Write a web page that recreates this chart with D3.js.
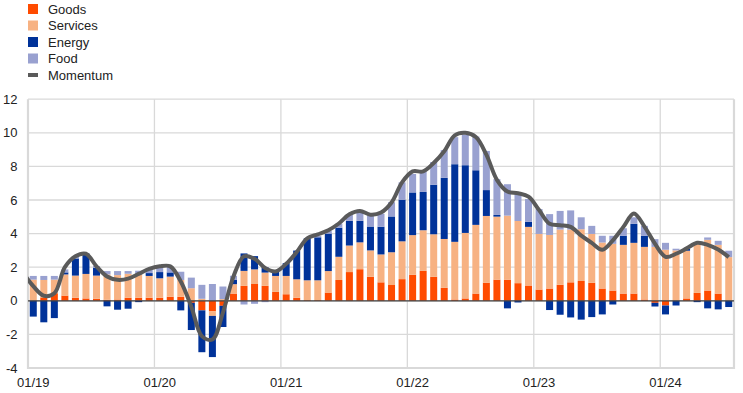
<!DOCTYPE html>
<html><head><meta charset="utf-8">
<script src="https://cdn.jsdelivr.net/npm/d3@7"></script>
<style>
html,body{margin:0;padding:0;background:#fff;}
svg{display:block;font-family:"Liberation Sans",Arial,sans-serif;}
</style></head>
<body><svg id="chart" width="743" height="393"></svg>
<script>
// months 01/19 .. 07/24
const months = [];
for (let y = 19; y <= 24; y++) for (let m = 1; m <= 12; m++) {
  if (y === 24 && m > 7) break;
  months.push(String(m).padStart(2, "0") + "/" + y);
}
const goods = [0.0,0.2,0.45,0.31,0.18,0.14,0.12,0.06,0.08,0.18,0.18,0.18,
  0.18,0.24,0.24,-0.12,-0.57,-0.63,-0.3,0.43,0.89,1.0,0.89,0.53,
  0.39,0.18,0.04,0.04,0.49,1.24,1.71,1.88,1.43,1.1,0.94,1.29,
  1.55,1.78,1.43,0.77,0.08,0.14,0.43,1.08,1.26,1.26,1.05,0.91,
  0.67,0.73,0.95,1.1,1.18,1.07,0.73,0.61,0.43,0.43,0.08,-0.12,
  -0.28,0.0,0.14,0.47,0.61,0.43,0.0];
const services = [1.26,1.04,0.81,1.26,1.32,1.46,1.38,1.51,1.45,1.43,1.39,1.3,
  1.16,1.2,1.0,0.75,0.12,-0.27,0.1,0.56,0.89,0.87,0.79,0.95,
  1.09,1.1,1.18,1.18,1.28,1.38,1.58,1.6,1.57,1.66,1.95,2.25,
  2.36,2.42,2.53,2.91,3.43,3.9,4.09,3.97,3.75,3.81,3.7,3.49,
  3.31,3.19,3.29,3.14,3.08,2.91,2.74,2.78,2.9,3.02,3.13,3.21,
  3.04,3.0,2.84,2.96,3.02,2.9,2.6];
const energy = [-0.94,-1.28,-1.03,0.12,1.02,1.22,0.47,-0.33,-0.53,-0.47,-0.08,0.17,
  0.37,0.25,-0.57,-1.62,-2.49,-2.45,-1.26,0.27,1.04,0.79,0.31,0.25,
  0.76,1.71,2.5,2.56,2.23,1.73,1.47,1.28,1.42,1.65,2.13,2.48,
  2.54,2.28,2.95,3.64,4.62,4.03,3.25,1.54,0.1,-0.45,-0.1,0.3,
  0.0,-0.55,-0.83,-0.99,-1.12,-0.97,-0.81,-0.22,0.54,1.13,0.66,-0.22,
  -0.53,-0.28,0.12,-0.08,-0.45,-0.51,-0.37];
const food = [0.22,0.24,0.22,0.18,0.1,0.0,0.1,0.2,0.24,0.16,0.22,0.22,
  0.28,0.32,0.49,0.63,0.83,1.0,0.75,0.23,-0.22,-0.18,-0.08,0.0,
  0.0,0.0,0.0,0.08,0.15,0.24,0.4,0.5,0.65,0.77,0.85,1.03,
  1.1,1.25,1.35,1.65,1.61,1.83,2.01,2.33,2.13,1.87,1.58,1.36,
  1.48,1.24,1.11,1.14,0.71,0.48,0.4,0.48,0.45,0.39,0.59,0.46,
  0.41,0.1,0.0,0.0,0.14,0.24,0.38];
const momentum = [0.87,0.3,0.45,2.0,2.65,2.8,2.05,1.45,1.25,1.32,1.6,1.9,
  2.05,2.05,1.15,-0.35,-2.1,-2.3,-0.7,1.45,2.65,2.5,1.95,1.75,
  2.2,2.9,3.72,3.95,4.2,4.6,5.15,5.35,5.12,5.25,5.85,7.05,
  7.7,7.7,8.2,8.9,9.85,10.0,9.75,8.7,7.2,6.5,6.4,6.2,
  5.4,4.58,4.5,4.4,3.88,3.45,3.04,3.6,4.4,5.2,4.42,3.4,
  2.62,2.8,3.12,3.45,3.33,3.05,2.6];
// momentum in 12/18, just left of the plot (its line segment is clipped at the plot edge)
const momentumPrev = 1.7;
const yTicks = [-4,-2,0,2,4,6,8,10,12];
const xTickLabels = ["01/19","01/20","01/21","01/22","01/23","01/24"];

const seriesKeys = ["goods","services","energy","food"];
const seriesNames = {goods:"Goods", services:"Services", energy:"Energy", food:"Food"};
const colors = {goods:"#ff4b00", services:"#f7b283", energy:"#003299", food:"#99a1d0"};
const lineColor = "#5a5a5a";

const table = months.map((m,i)=>({month:m, goods:goods[i], services:services[i], energy:energy[i], food:food[i], momentum:momentum[i]}));

const svg = d3.select("#chart");
const L = 28, R = 734, T = 99.2, B = 368;

const x = d3.scaleBand().domain(months).range([L, R]).paddingInner(0.335).paddingOuter(0.1675);
const xs = d3.scaleBand().domain(months).range([L, R]);
const y = d3.scaleLinear().domain([-4, 12]).range([B, T]);

svg.append("defs").append("clipPath").attr("id","plotclip")
  .append("rect").attr("x",L).attr("y",0).attr("width",R-L).attr("height",393);

// gridlines
svg.append("g").selectAll("line").data(yTicks).join("line")
  .attr("x1", L).attr("x2", R).attr("y1", d=>y(d)).attr("y2", d=>y(d))
  .attr("stroke", "#d9d9d9").attr("stroke-width", 1.3);
svg.append("g").selectAll("line").data(xTickLabels.slice(1)).join("line")
  .attr("x1", d=>xs(d)).attr("x2", d=>xs(d)).attr("y1", T).attr("y2", B)
  .attr("stroke", "#d9d9d9").attr("stroke-width", 1.3);
// frame
svg.append("path").attr("d", `M${L},${T}V${B}H${R}V${T}`)
  .attr("fill","none").attr("stroke","#d9d9d9").attr("stroke-width",2.2);

// stacked bars
const stack = d3.stack().keys(seriesKeys).offset(d3.stackOffsetDiverging);
const stacked = stack(table);
svg.append("g").selectAll("g").data(stacked).join("g")
  .attr("fill", d=>colors[d.key])
  .selectAll("rect").data(d=>d).join("rect")
  .attr("x", d=>x(d.data.month)).attr("width", x.bandwidth())
  .attr("y", d=>y(Math.max(d[0],d[1])))
  .attr("height", d=>Math.abs(y(d[0])-y(d[1])));

// zero line
svg.append("line").attr("x1",L).attr("x2",R).attr("y1",y(0)).attr("y2",y(0))
  .attr("stroke","#404040").attr("stroke-width",1.2);

// momentum line
const cx = d=>x(d.month)+x.bandwidth()/2;
const linePts = [{px: cx(table[0]) - xs.step(), py: y(momentumPrev)}]
  .concat(table.map(d=>({px: cx(d), py: y(d.momentum)})));
const line = d3.line().x(d=>d.px).y(d=>d.py).curve(d3.curveCatmullRom.alpha(0.5));
svg.append("path").datum(linePts).attr("d", line).attr("fill","none")
  .attr("clip-path","url(#plotclip)")
  .attr("stroke", lineColor).attr("stroke-width", 4).attr("stroke-linejoin","round");

// y axis labels
svg.append("g").selectAll("text").data(yTicks).join("text")
  .attr("x", 17.5).attr("y", d=>y(d)).attr("dy","0.35em").attr("text-anchor","end")
  .attr("font-size", 13).attr("fill","#222").text(d=>d);
// x axis labels
svg.append("g").selectAll("text").data(xTickLabels).join("text")
  .attr("x", d=>x(d)+x.bandwidth()/2).attr("y", 387).attr("text-anchor","middle")
  .attr("font-size", 13).attr("fill","#222").text(d=>d);

// legend
const legendItems = seriesKeys.map(k=>({name:seriesNames[k], color:colors[k], type:"rect"}))
  .concat([{name:"Momentum", color:lineColor, type:"line"}]);
const lg = svg.append("g").selectAll("g").data(legendItems).join("g")
  .attr("transform", (d,i)=>`translate(28,${9 + i*16.5})`);
lg.filter(d=>d.type==="rect").append("rect").attr("x",0).attr("y",-5).attr("width",10).attr("height",10).attr("fill",d=>d.color);
lg.filter(d=>d.type==="line").append("rect").attr("x",0).attr("y",-2).attr("width",10).attr("height",4).attr("fill",d=>d.color);
lg.append("text").attr("x",20).attr("y",0).attr("dy","0.35em").attr("font-size",13).attr("fill","#222").text(d=>d.name);
</script></body></html>
